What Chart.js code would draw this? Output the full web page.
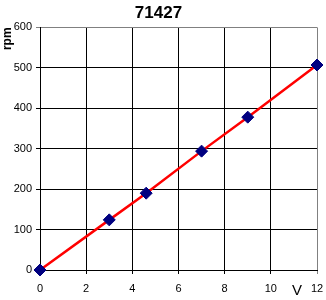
<!DOCTYPE html>
<html>
<head>
<meta charset="utf-8">
<script src="https://cdn.jsdelivr.net/npm/chart.js@4"></script>
<style>
  body { margin: 0; background: #fff; }
  #wrap { width: 326px; height: 300px; }
</style>
</head>
<body>
<div id="wrap"><canvas id="motorChart"></canvas></div>
<script>
// voltage (V) vs speed (rpm)
const volts = [0, 3, 4.6, 7, 9, 12];
const rpm = [0, 124, 190, 294, 378, 507];
const xTicks = [0, 2, 4, 6, 8, 10, 12];
const yTicks = [0, 100, 200, 300, 400, 500, 600];

const FONT = "'Liberation Sans', Arial, sans-serif";

// the "V" label sits next to the last x tick, not under the axis
const voltLabel = {
    id: 'voltLabel',
    afterDraw(chart) {
        const c = chart.ctx;
        const area = chart.chartArea;
        c.save();
        c.font = '15px ' + FONT;
        c.fillStyle = '#000';
        c.textAlign = 'center';
        c.textBaseline = 'alphabetic';
        c.fillText('V', area.right - 20, 295);
        c.restore();
    }
};

function createMotorChart() {
    const ctx = document.getElementById('motorChart').getContext('2d');
    new Chart(ctx, {
        type: 'scatter',
        data: {
            datasets: [{
                data: volts.map((v, i) => ({ x: v, y: rpm[i] })),
                showLine: true,
                borderColor: '#ff0000',
                borderWidth: 2.5,
                pointStyle: 'rectRot',
                pointRadius: 6,
                pointBackgroundColor: '#000080',
                pointBorderColor: '#000080',
                pointBorderWidth: 1,
                clip: false
            }]
        },
        options: {
            responsive: true,
            maintainAspectRatio: false,
            animation: false,
            layout: { padding: { left: 0, right: 9, top: 0, bottom: 0 } },
            scales: {
                x: {
                    type: 'linear',
                    min: 0,
                    max: 12,
                    afterBuildTicks: s => { s.ticks = xTicks.map(v => ({ value: v })); },
                    afterFit: s => {
                        s.height = 30;
                        s.paddingLeft = 0;
                        s.paddingRight = 0;
                    },
                    grid: {
                        color: c => c.tick && c.tick.value === 12 ? '#808080' : '#000',
                        lineWidth: 1,
                        tickLength: 4
                    },
                    border: { color: '#000', width: 1 },
                    ticks: { color: '#000', font: { family: FONT, size: 11 }, padding: 8, maxRotation: 0 }
                },
                y: {
                    min: 0,
                    max: 600,
                    afterBuildTicks: s => { s.ticks = yTicks.map(v => ({ value: v })); },
                    afterFit: s => { s.width = 40; },
                    grid: {
                        color: c => c.tick && c.tick.value === 600 ? '#808080' : '#000',
                        lineWidth: 1,
                        tickLength: 4
                    },
                    border: { color: '#000', width: 1 },
                    ticks: { color: '#000', font: { family: FONT, size: 11 }, padding: 4 },
                    title: {
                        display: true,
                        text: 'rpm',
                        align: 'end',
                        color: '#000',
                        font: { family: FONT, size: 12, weight: 'bold' },
                        padding: { top: 0, bottom: 0 }
                    }
                }
            },
            plugins: {
                legend: { display: false },
                tooltip: { enabled: false },
                title: {
                    display: true,
                    text: '71427',
                    color: '#000',
                    font: { family: FONT, size: 17, weight: 'bold' },
                    padding: { top: 3, bottom: 4 }
                }
            }
        },
        plugins: [voltLabel]
    });
}

createMotorChart();
</script>
</body>
</html>
